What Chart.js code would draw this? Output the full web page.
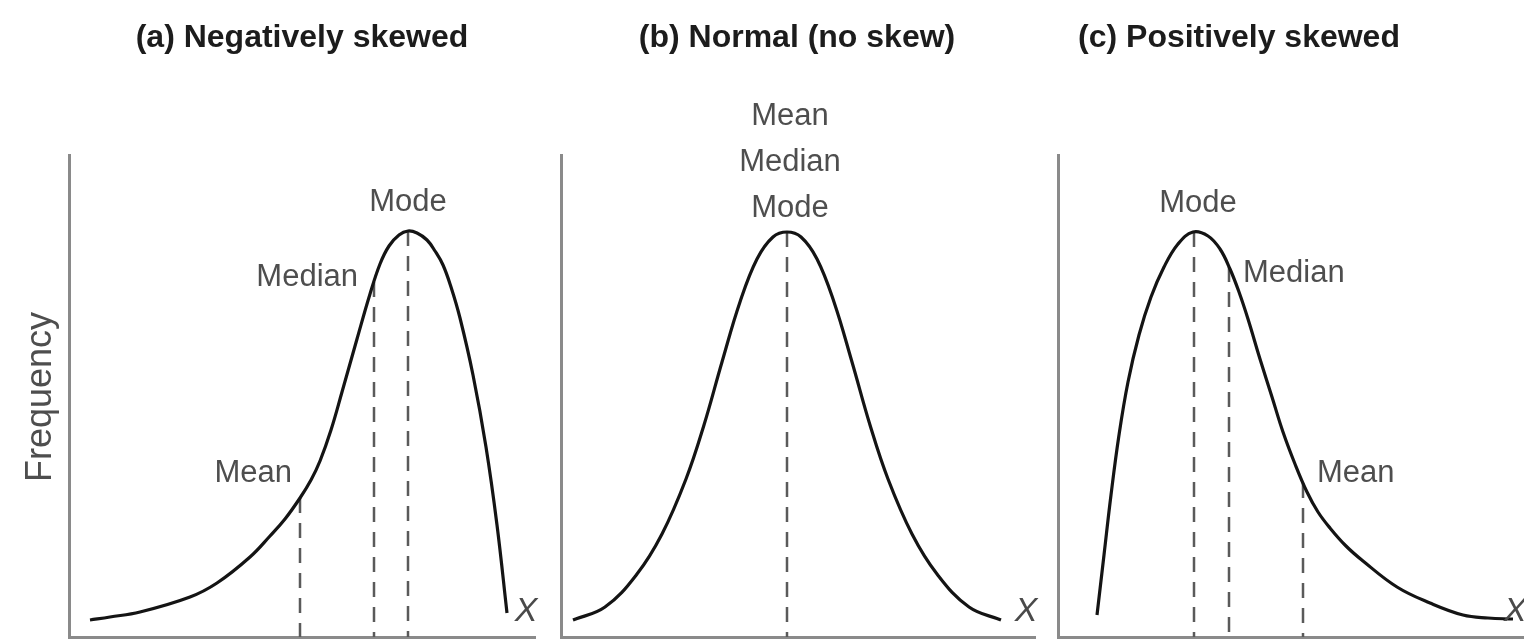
<!DOCTYPE html>
<html>
<head>
<meta charset="utf-8">
<script src="https://cdn.jsdelivr.net/npm/chart.js@4.4.1/dist/chart.umd.min.js"></script>
<style>
  html, body { margin: 0; padding: 0; background: #fff; }
  body { width: 1524px; height: 641px; position: relative; overflow: hidden; }
  canvas { position: absolute; top: 0; }
</style>
</head>
<body>
<canvas id="panel-a" width="545" height="641" style="left:0px"></canvas>
<canvas id="panel-b" width="500" height="641" style="left:545px"></canvas>
<canvas id="panel-c" width="479" height="641" style="left:1045px"></canvas>
<script>
// ---- data (x = value along X, y = frequency) ----
const markNames = ["Mean", "Median", "Mode"];

// (a) negatively skewed
const negX = [21, 41, 71, 121, 148, 181, 201, 216, 231, 242, 251, 262, 273, 288, 301, 311, 320, 330, 339, 348, 358, 366, 374, 382, 391, 404, 417, 428, 438];
const negY = [17, 20, 25, 40, 54, 80, 101, 118, 139, 157, 176, 207, 245, 298, 343, 373, 391, 402, 406, 404, 397, 386, 372, 350, 319, 262, 190, 112, 24];
const negMarkX = [231, 305, 339];
const negMarkY = [139, 355, 406];

// (b) normal
const normX = [12, 44, 76, 101, 125, 143, 161, 179, 196, 212, 226, 240, 256, 273, 291, 309, 327, 351, 376, 408, 440];
const normY = [17, 30, 63, 103, 158, 212, 275, 335, 378, 400, 405, 400, 378, 335, 275, 212, 158, 103, 63, 30, 17];
const normMarkX = [226];
const normMarkY = [405];

// (c) positively skewed
const posX = [39, 46, 53, 61, 70, 81, 93, 106, 120, 135, 150, 162, 172, 181, 190, 202, 214, 225, 237, 249, 260, 272, 288, 305, 339, 372, 405, 430, 455];
const posY = [22, 82, 142, 202, 255, 302, 340, 370, 393, 405, 401, 388, 368, 345, 318, 278, 240, 205, 173, 145, 125, 109, 91, 76, 50, 34, 22, 19, 18];
const posMarkX = [245, 171, 136];
const posMarkY = [154, 370, 405];

// ---- styles ----
const AXIS = "#8a8a8a";
const INK = "#141414";
const DASH = "#5a5a5a";
const LABEL = "#4e4e4e";
const FONT = "'Liberation Sans', Arial, Helvetica, sans-serif";

// draws titles, mark labels, the X and the Frequency label
const panelText = {
  id: "panelText",
  afterDatasetsDraw(chart, args, opts) {
    const { ctx, chartArea, scales } = chart;
    const put = (text, px, py, font, color, align, rot) => {
      ctx.save();
      ctx.translate(px, py);
      if (rot) ctx.rotate(rot);
      ctx.font = font;
      ctx.fillStyle = color;
      ctx.textAlign = align || "center";
      ctx.textBaseline = "middle";
      ctx.fillText(text, 0, 0);
      ctx.restore();
    };
    ctx.save();
    put(opts.title, chartArea.left + opts.titleX, 38, "bold 32px " + FONT, "#1c1c1c");
    opts.labels.forEach(l => {
      const px = scales.x.getPixelForValue(l.x) + l.ox;
      const py = scales.y.getPixelForValue(l.y) + l.oy;
      put(l.text, px, py, "31px " + FONT, LABEL, l.align);
    });
    put("X", chartArea.right - 9, chartArea.bottom - 25, "italic 34px " + FONT, "#4a4a4a");
    if (opts.yTitle) {
      put(opts.yTitle, chartArea.left - 28, chartArea.top + 242, "36px " + FONT, LABEL, "center", -Math.PI / 2);
    }
    ctx.restore();
  }
};

function pts(xs, ys) {
  return xs.map((x, i) => ({ x, y: ys[i] }));
}

function makePanel(id, cfg) {
  const datasets = [{
    data: pts(cfg.xs, cfg.ys),
    borderColor: INK,
    borderWidth: 3.2,
    pointRadius: 0,
    tension: 0.4,
    fill: false
  }];
  cfg.markX.forEach((mx, i) => {
    datasets.push({
      data: [{ x: mx, y: cfg.markY[i] }, { x: mx, y: 0 }],
      borderColor: DASH,
      borderWidth: 2.5,
      borderDash: [15, 10],
      pointRadius: 0,
      tension: 0
    });
  });

  const labels = cfg.labels.map(l => ({
    text: l.text,
    x: cfg.markX[l.mark],
    y: cfg.markY[l.mark],
    ox: l.ox, oy: l.oy, align: l.align
  }));

  const axis = (max) => ({
    type: "linear",
    min: 0,
    max,
    grid: { display: false, drawTicks: false },
    ticks: { display: false },
    border: { display: true, color: AXIS, width: 3 }
  });

  return new Chart(document.getElementById(id), {
    type: "line",
    data: { datasets },
    options: {
      responsive: false,
      animation: false,
      devicePixelRatio: 1,
      layout: { padding: cfg.padding },
      scales: { x: axis(cfg.xMax), y: axis(482) },
      plugins: {
        legend: { display: false },
        tooltip: { enabled: false },
        panelText: { title: cfg.title, titleX: cfg.titleX, labels, yTitle: cfg.yTitle }
      }
    },
    plugins: [panelText]
  });
}

makePanel("panel-a", {
  xs: negX, ys: negY, markX: negMarkX, markY: negMarkY,
  xMax: 466,
  padding: { left: 69, right: 10, top: 155, bottom: 4 },
  title: "(a) Negatively skewed", titleX: 233,
  yTitle: "Frequency",
  labels: [
    { text: markNames[0], mark: 0, ox: -8, oy: -25, align: "right" },
    { text: markNames[1], mark: 1, ox: -16, oy: -5, align: "right" },
    { text: markNames[2], mark: 2, ox: 0, oy: -29, align: "center" }
  ]
});

makePanel("panel-b", {
  xs: normX, ys: normY, markX: normMarkX, markY: normMarkY,
  xMax: 474,
  padding: { left: 16, right: 10, top: 155, bottom: 4 },
  title: "(b) Normal (no skew)", titleX: 236,
  labels: [
    { text: markNames[0], mark: 0, ox: 3, oy: -116, align: "center" },
    { text: markNames[1], mark: 0, ox: 3, oy: -70, align: "center" },
    { text: markNames[2], mark: 0, ox: 3, oy: -24, align: "center" }
  ]
});

makePanel("panel-c", {
  xs: posX, ys: posY, markX: posMarkX, markY: posMarkY,
  xMax: 466,
  padding: { left: 13, right: 0, top: 155, bottom: 4 },
  title: "(c) Positively skewed", titleX: 181,
  labels: [
    { text: markNames[0], mark: 0, ox: 14, oy: -10, align: "left" },
    { text: markNames[1], mark: 1, ox: 14, oy: 6, align: "left" },
    { text: markNames[2], mark: 2, ox: 4, oy: -29, align: "center" }
  ]
});
</script>
</body>
</html>
